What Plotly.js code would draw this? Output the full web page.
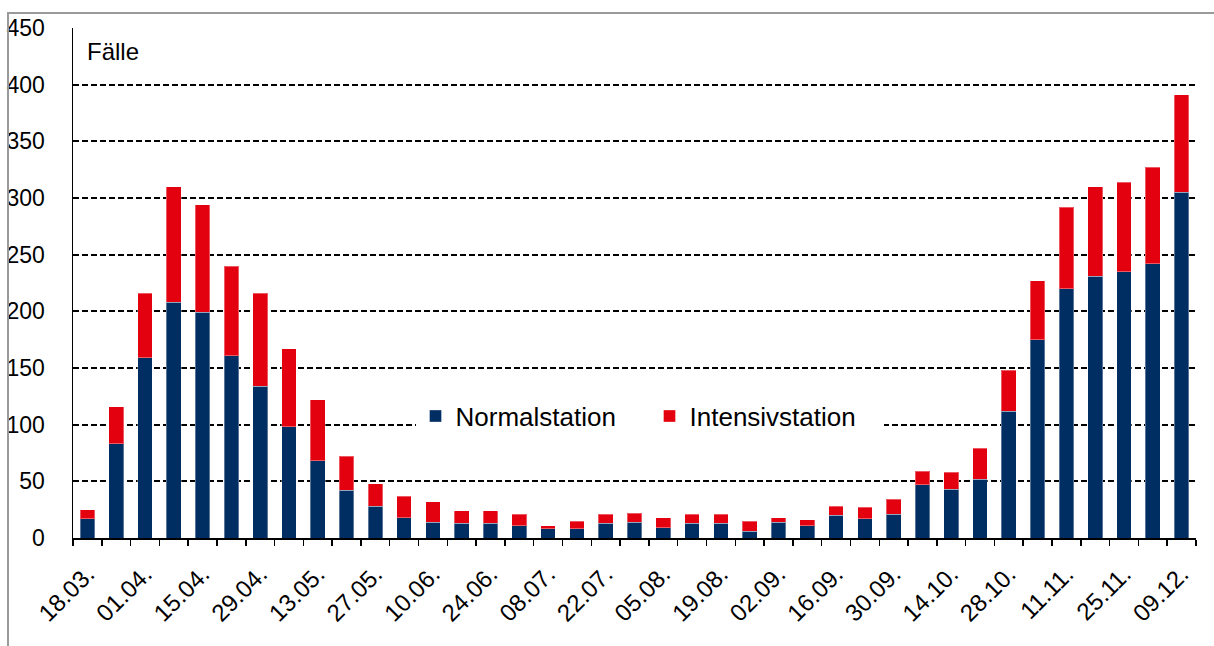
<!DOCTYPE html>
<html>
<head>
<meta charset="utf-8">
<script src="https://cdn.plot.ly/plotly-3.0.1.min.js"></script>
<style>
  html, body { margin: 0; padding: 0; background: #fff; }
  #wrap { position: relative; width: 1214px; height: 646px; overflow: hidden; }
  #chart { width: 1214px; height: 646px; }
  #frame { position: absolute; left: 7px; top: 12px; width: 1300px; height: 800px;
           border-left: 2px solid #9a9a9a; border-top: 2px solid #9a9a9a; pointer-events: none; }
</style>
</head>
<body>
<div id="wrap">
  <div id="chart"></div>
  <div id="frame"></div>
</div>
<script>
// Week labels (Meldewoche)
const categories = ['18.03.','25.03.','01.04.','08.04.','15.04.','22.04.','29.04.','06.05.','13.05.','20.05.',
  '27.05.','03.06.','10.06.','17.06.','24.06.','01.07.','08.07.','15.07.','22.07.','29.07.',
  '05.08.','12.08.','19.08.','26.08.','02.09.','09.09.','16.09.','23.09.','30.09.','07.10.',
  '14.10.','21.10.','28.10.','04.11.','11.11.','18.11.','25.11.','02.12.','09.12.'];

// Cases, Normalstation
const normalstation = [17,83,159,208,199,161,134,98,68,42,
  28,18,14,13,13,11,8,8,13,14,
  9,13,13,6,14,11,20,17,21,47,
  43,52,112,175,220,231,235,242,305];

// Cases, Intensivstation
const intensivstation = [8,33,57,102,95,79,82,69,54,30,
  20,19,18,11,11,10,3,7,8,8,
  9,8,8,9,4,5,8,10,13,12,
  15,27,36,52,72,79,79,85,86];

// Tick labels shown on the x axis (every second week)
const tickLabels = ['18.03.','01.04.','15.04.','29.04.','13.05.','27.05.','10.06.','24.06.','08.07.','22.07.',
  '05.08.','19.08.','02.09.','16.09.','30.09.','14.10.','28.10.','11.11.','25.11.','09.12.'];

const seriesNames = ['Normalstation', 'Intensivstation'];
const yLabel = 'Fälle';

const xIdx = categories.map((c, i) => i);
const tickVals = tickLabels.map(l => categories.indexOf(l));

const FONT = '"Liberation Sans", Arial, sans-serif';

const traces = [
  {
    type: 'bar', name: seriesNames[0], x: xIdx, y: normalstation,
    marker: { color: '#002D62', line: { color: 'rgba(255,255,255,0.35)', width: 1 } },
    hovertext: categories
  },
  {
    type: 'bar', name: seriesNames[1], x: xIdx, y: intensivstation,
    marker: { color: '#E3000F', line: { color: 'rgba(255,255,255,0.35)', width: 1 } },
    hovertext: categories
  }
];

const layout = {
  width: 1214, height: 646,
  margin: { l: 73, r: 18, t: 28, b: 108, pad: 0 },
  paper_bgcolor: '#fff', plot_bgcolor: '#fff',
  font: { family: FONT, color: '#000', size: 23 },
  barmode: 'stack',
  bargap: 0.49,
  showlegend: true,
  legend: {
    orientation: 'h', x: 0.305, xanchor: 'left', y: 0.239, yanchor: 'middle',
    bgcolor: '#fff', font: { size: 26, family: FONT, color: '#000' },
    traceorder: 'normal', itemwidth: 30,
    entrywidth: 189, entrywidthmode: 'pixels'
  },
  xaxis: {
    range: [-0.5, categories.length - 0.5],
    tickmode: 'array', tickvals: tickVals, ticktext: tickLabels,
    tickangle: -45, tickfont: { size: 24, family: FONT, color: '#000' },
    ticks: '', ticklabelstandoff: 11, showgrid: false, zeroline: false,
    showline: true, linecolor: '#000', linewidth: 1.5,
    minor: { tickmode: 'linear', tick0: -0.5, dtick: 1, ticks: 'outside', ticklen: 6,
             tickcolor: '#000', tickwidth: 1.5, showgrid: false },
    fixedrange: true
  },
  yaxis: {
    range: [0, 450], tickmode: 'linear', tick0: 0, dtick: 50,
    tickfont: { size: 23, family: FONT, color: '#000' },
    ticks: '', ticklabelstandoff: 22,
    showgrid: true, gridcolor: '#000', gridwidth: 2, griddash: '6px,3px',
    zeroline: false, showline: true, linecolor: '#000', linewidth: 1.5,
    fixedrange: true
  },
  annotations: [
    { text: yLabel, xref: 'paper', yref: 'paper', x: 0.011, y: 0.953,
      xanchor: 'left', yanchor: 'middle', showarrow: false,
      font: { size: 24, family: FONT, color: '#000' } }
  ]
};

Plotly.newPlot('chart', traces, layout, { displayModeBar: false, staticPlot: true });
</script>
</body>
</html>
